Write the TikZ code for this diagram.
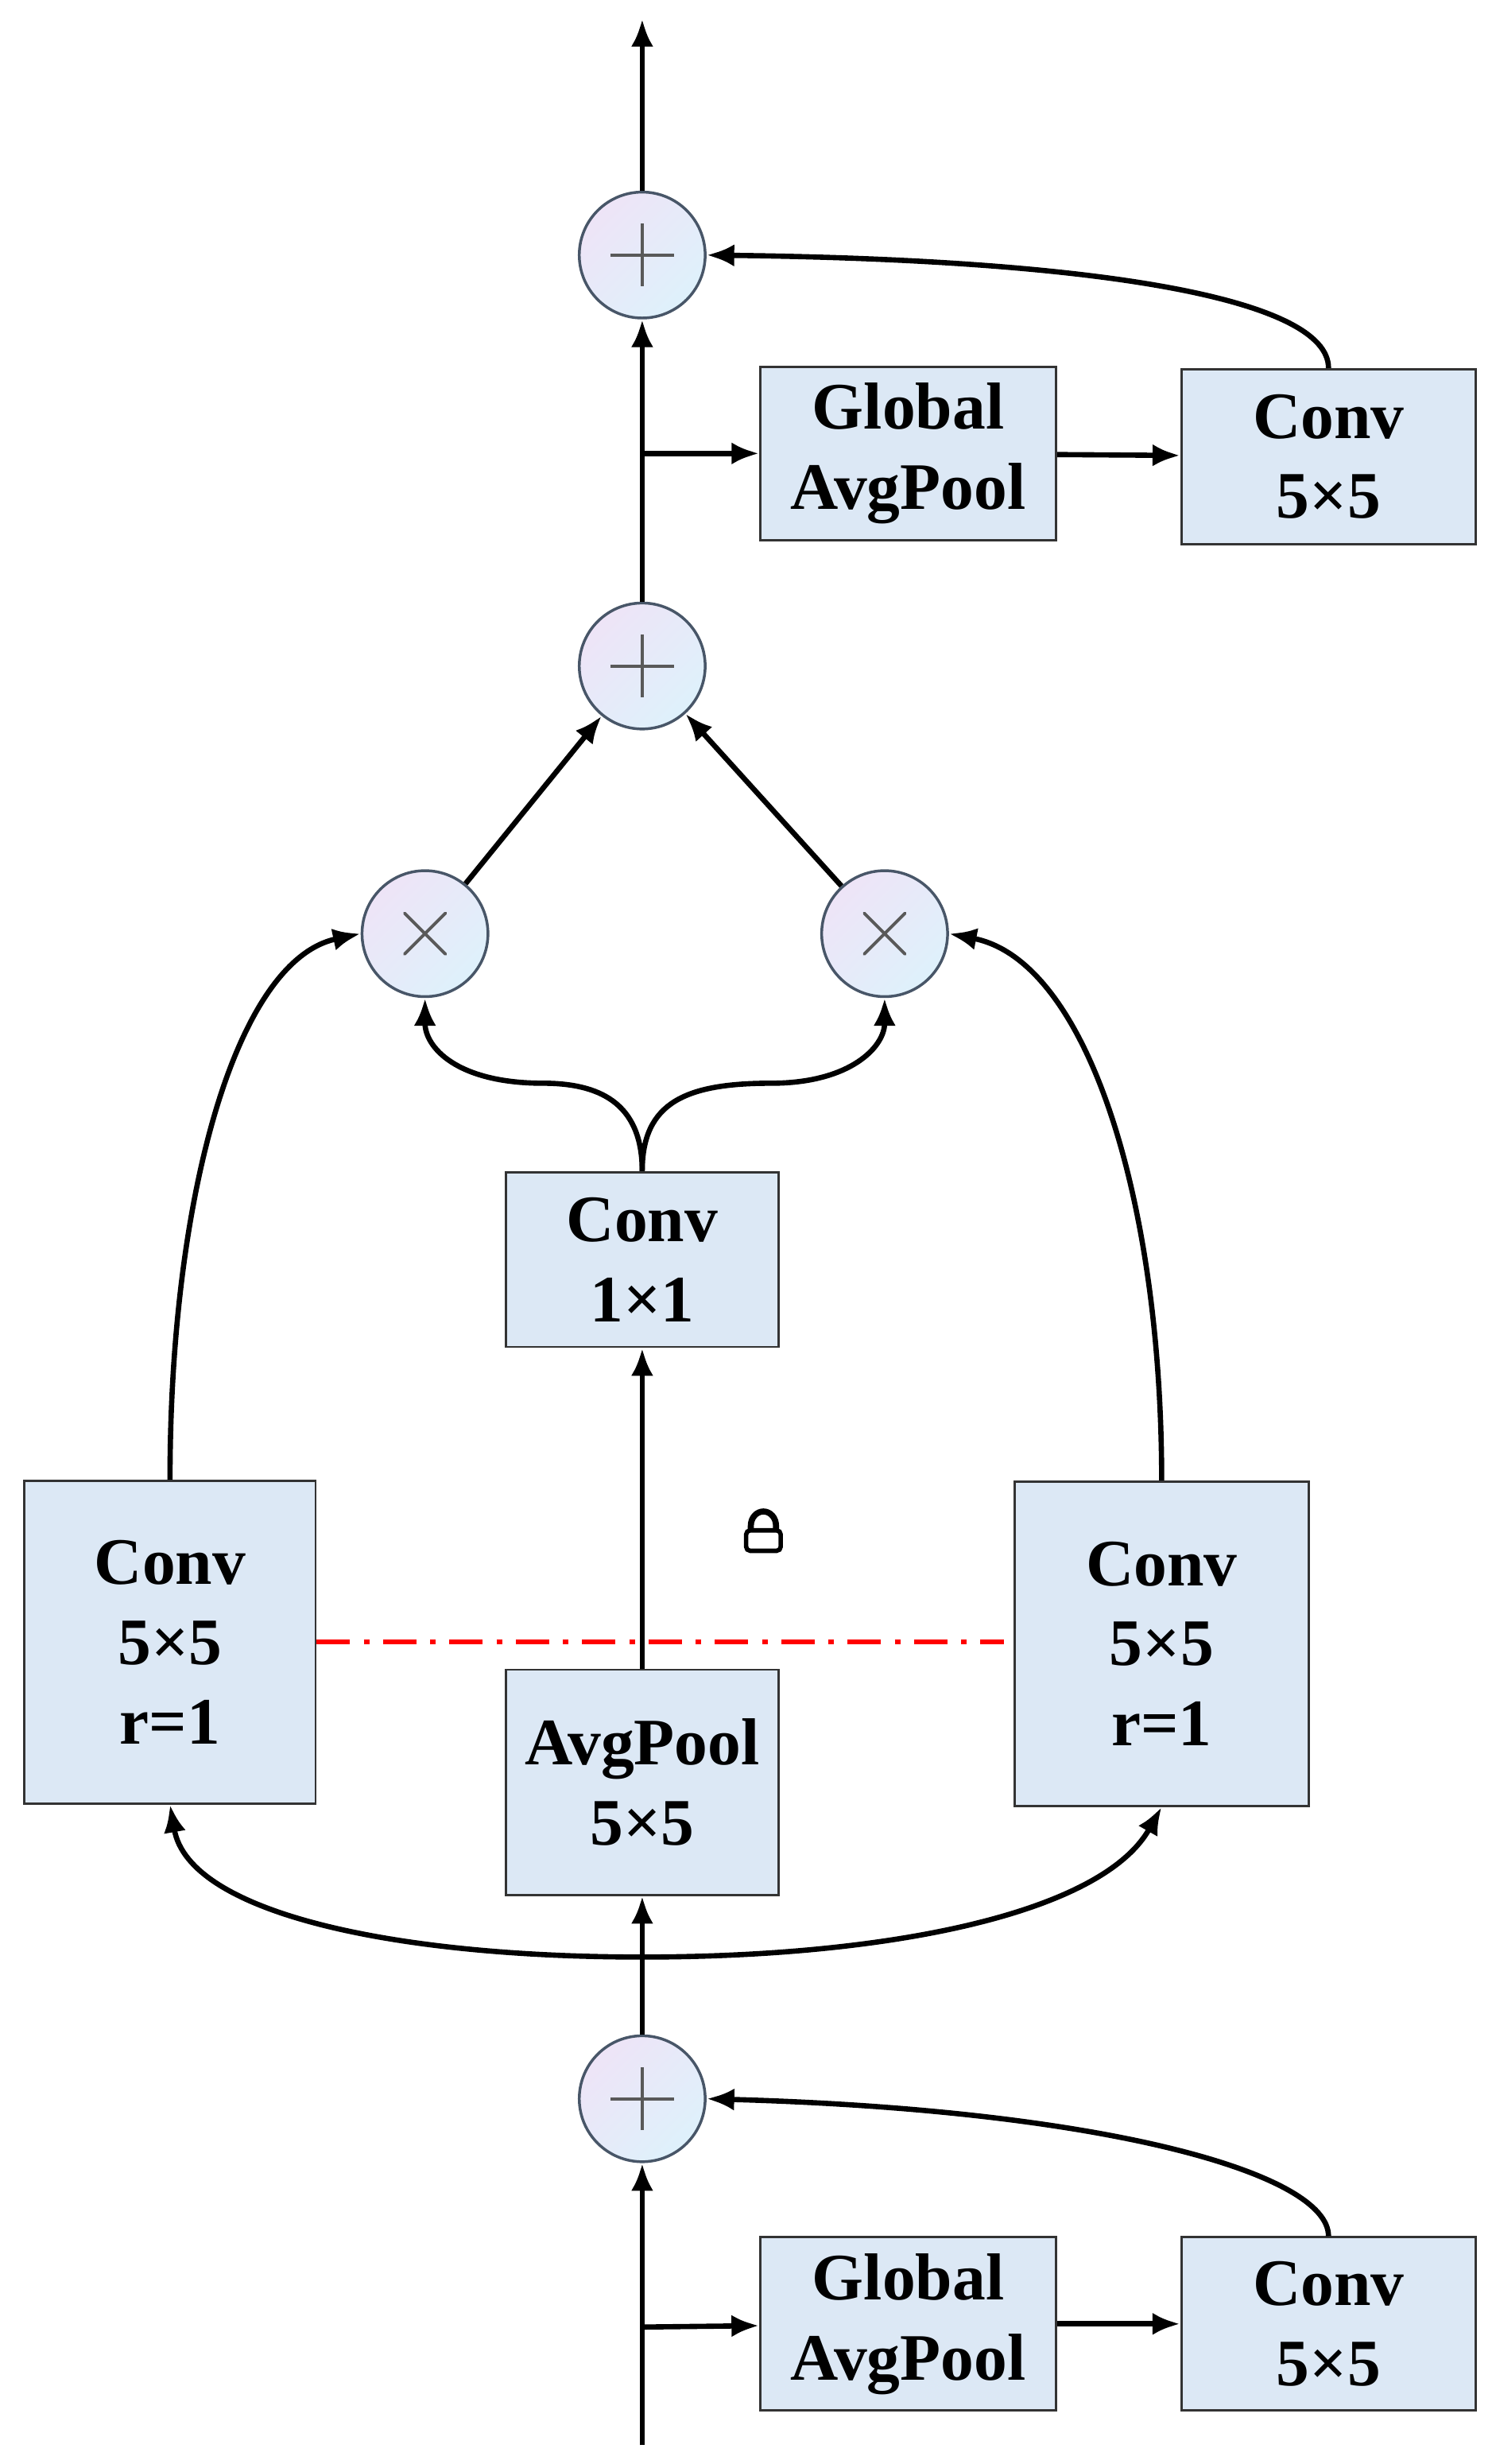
\documentclass[tikz,border=0pt]{standalone}
\usepackage{fontspec}
\setmainfont{Liberation Serif}
\usetikzlibrary{arrows.meta,calc}
\definecolor{boxfill}{RGB}{220,232,245}
\definecolor{opedge}{RGB}{72,86,104}
\definecolor{oppink}{RGB}{238,228,247}
\definecolor{opblue}{RGB}{222,241,251}
\tikzset{
  blk/.style={draw=black!80,line width=0.8pt,fill=boxfill,align=center,
    font=\fontsize{24}{29}\selectfont\bfseries,inner sep=0pt},
  op/.style={circle,draw=opedge,line width=1pt,left color=oppink,right color=opblue,
    shading angle=45,minimum size=80*0.02cm,inner sep=0pt},
  conn/.style={line width=1.9pt,-{Latex[length=10pt,width=8pt]}},
}
\newcommand{\plussign}[1]{\draw[gray!70!black,line width=1.1pt] ($(#1)+(-20,0)$) -- ($(#1)+(20,0)$) ($(#1)+(0,-20)$) -- ($(#1)+(0,20)$);}
\newcommand{\timessign}[1]{\draw[gray!70!black,line width=1.1pt,line cap=round] ($(#1)+(-13,-13)$) -- ($(#1)+(13,13)$) ($(#1)+(-13,13)$) -- ($(#1)+(13,-13)$);}
\begin{document}
\begin{tikzpicture}[x=0.02cm,y=-0.02cm]
\useasboundingbox (0,0) rectangle (950,1565);

% operators
\node[op] (add1) at (408,162) {};
\node[op] (add2) at (408,423) {};
\node[op] (mulL) at (270,593) {};
\node[op] (mulR) at (562,593) {};
\node[op] (add3) at (408,1333) {};
\plussign{add1} \plussign{add2} \plussign{add3}
\timessign{mulL} \timessign{mulR}

% blocks
\node[blk,minimum width=188*0.02cm,minimum height=110*0.02cm] (gapT) at (577,288) {Global\\AvgPool};
\node[blk,minimum width=187*0.02cm,minimum height=111*0.02cm] (convT) at (844,290) {Conv\\5×5};
\node[blk,minimum width=173*0.02cm,minimum height=111*0.02cm] (conv1) at (408,800) {Conv\\1×1};
\node[blk,minimum width=185*0.02cm,minimum height=205*0.02cm] (convL) at (108,1043) {Conv\\5×5\\r=1};
\node[blk,minimum width=187*0.02cm,minimum height=206*0.02cm] (convR) at (738,1044) {Conv\\5×5\\r=1};
\node[blk,minimum width=173*0.02cm,minimum height=143*0.02cm] (pool) at (408,1132) {AvgPool\\5×5};
\node[blk,minimum width=188*0.02cm,minimum height=110*0.02cm] (gapB) at (577,1476) {Global\\AvgPool};
\node[blk,minimum width=187*0.02cm,minimum height=110*0.02cm] (convB) at (844,1476) {Conv\\5×5};

\coordinate (in) at (408,1553);
\coordinate (out) at (408,12);
\coordinate (tapB) at (408,1478);
\coordinate (tapT) at (408,288);
\coordinate (split) at (408,1243);

% bottom stage
\draw[conn] (in) -- (add3);
\draw[conn] (tapB) -- (gapB);
\draw[conn] (gapB) -- (convB);
\draw[conn] (convB.north) .. controls (844,1380) and (700,1340) .. (add3.east);
\draw[conn] (add3) -- (pool);
\draw[conn] (split) .. controls (250,1243) and (120,1215) .. (convL.south);
\draw[conn] (split) .. controls (566,1243) and (700,1215) .. (convR.south);

% middle stage
\draw[conn] (pool) -- (conv1);
\draw[red,line width=1.8pt,dash pattern=on 12pt off 5pt on 2pt off 5pt] (convL.east) -- (638,1043);
\draw[conn] (conv1.north) .. controls (408,700) and (380,688) .. (345,688) .. controls (290,688) and (270,665) .. (mulL.south);
\draw[conn] (conv1.north) .. controls (408,700) and (436,688) .. (490,688) .. controls (540,688) and (562,665) .. (mulR.south);
\draw[conn] (convL.north) .. controls (108,760) and (150,610) .. (mulL.west);
\draw[conn] (convR.north) .. controls (738,760) and (690,610) .. (mulR.east);
\draw[conn] (mulL) -- (add2);
\draw[conn] (mulR) -- (add2);

% top stage
\draw[conn] (add2) -- (add1);
\draw[conn] (tapT) -- (gapT);
\draw[conn] (gapT) -- (convT);
\draw[conn] (convT.north) .. controls (844,190) and (700,165) .. (add1.east);
\draw[conn] (add1) -- (out);

% lock
\draw[line width=2.2pt] (477,973) -- (477,969) arc[start angle=180,end angle=360,x radius=8,y radius=9] -- (493,973);
\draw[line width=1.6pt,fill=white,rounded corners=1.5pt] (474,972) rectangle (496,985);
\end{tikzpicture}
\end{document}
